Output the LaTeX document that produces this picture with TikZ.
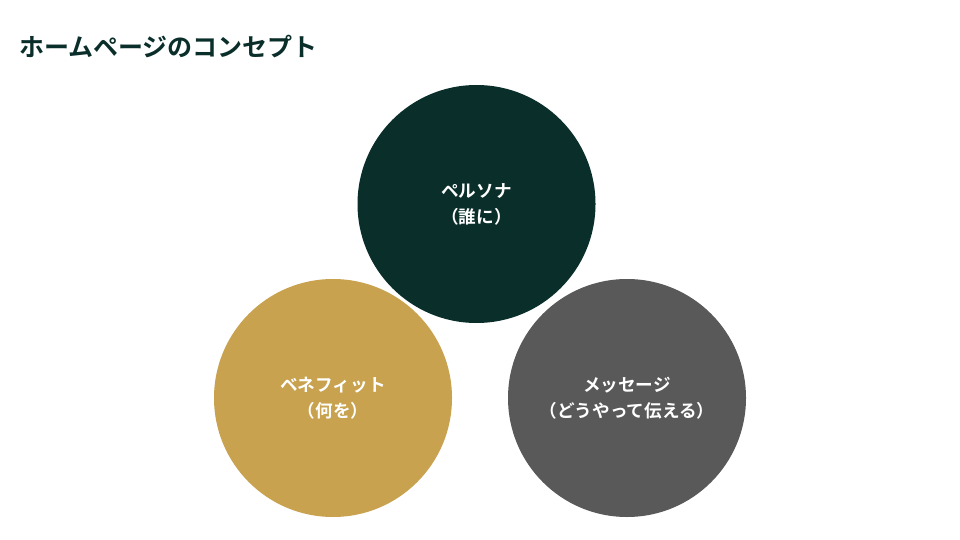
\documentclass[tikz,border=0pt]{standalone}
\usepackage{fontspec}
\setmainfont{Noto Sans CJK JP}[BoldFont={Noto Sans CJK JP Bold}]
\newfontfamily\jpbold{Noto Sans CJK JP Bold}
\definecolor{dgreen}{HTML}{0A2E2A}
\definecolor{gold}{HTML}{C8A24E}
\definecolor{dgray}{HTML}{595959}
\tikzset{
  bubble/.style={circle, minimum size=238pt, inner sep=0pt, text=white, align=center,
    font=\jpbold\fontsize{17.6pt}{26pt}\selectfont},
}
\begin{document}
\begin{tikzpicture}[x=1pt,y=-1pt]
\useasboundingbox[fill=white] (0,0) rectangle (960,540);
\node[anchor=west, text=dgreen, font=\jpbold\fontsize{25pt}{30pt}\selectfont, inner sep=0pt] (title) at (19,47) {ホームページのコンセプト};
\node[bubble, fill=dgreen] (persona) at (476.5,204) {ペルソナ\\（誰に）};
\node[bubble, fill=gold] (benefit) at (333,398) {ベネフィット\\（何を）};
\node[bubble, fill=dgray] (message) at (627,398) {メッセージ\\（どうやって伝える）};
\end{tikzpicture}
\end{document}
